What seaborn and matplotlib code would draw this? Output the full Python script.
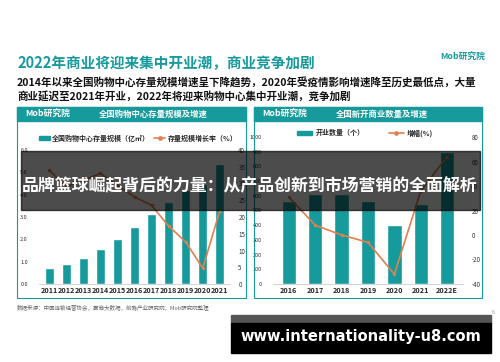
import numpy as np
import matplotlib
matplotlib.use("Agg")
import matplotlib.pyplot as plt
import seaborn as sns
from matplotlib.patches import Rectangle
from matplotlib.lines import Line2D

sns.set_theme(style="white")
plt.rcParams["font.family"] = ["Noto Sans CJK SC", "DejaVu Sans"]

# data
stock_years = ["2011", "2012", "2013", "2014", "2015", "2016", "2017", "2018", "2019", "2020", "2021"]
stock_area = [0.70, 0.90, 1.16, 1.57, 2.03, 2.54, 3.15, 3.69, 4.20, 4.50, 5.36]
stock_growth = [34.0, 29.0, 31.0, 33.0, 29.5, 26.0, 23.5, 17.3, 12.6, 4.7, 21.8]

open_years = ["2016", "2017", "2018", "2019", "2020", "2021", "2022E"]
open_count = [566, 614, 611, 566, 398, 543, 898]
open_growth = [31.0, 8.0, 0.0, -6.0, -32.0, 36.0, 64.0]

TEAL = "#169a9c"
ORANGE = "#e0804e"
W, H = 500, 362


def box(x0, y0, x1, y1):
    return [x0 / W, 1 - y1 / H, (x1 - x0) / W, (y1 - y0) / H]


fig = plt.figure(figsize=(5, 3.62), dpi=100)
fig.patch.set_facecolor("white")

# title and subtitle
fig.text(17 / W, 1 - 63 / H, "2022年商业将迎来集中开业潮，商业竞争加剧", color=TEAL,
         fontsize=10.5, fontweight="bold", va="center", ha="left")
fig.text(440 / W, 1 - 57 / H, "Mob研究院", color=TEAL, fontsize=6.3,
         style="italic", fontweight="bold", va="center", ha="left")
fig.text(17 / W, 1 - 82 / H,
         "2014年以来全国购物中心存量规模增速呈下降趋势，2020年受疫情影响增速降至历史最低点，大量",
         fontsize=7.6, fontweight="bold", color="#111111", va="center", ha="left")
fig.text(17 / W, 1 - 96 / H, "商业延迟至2021年开业，2022年将迎来购物中心集中开业潮，竞争加剧",
         fontsize=7.6, fontweight="bold", color="#111111", va="center", ha="left")


def panel(x0, x1, title):
    fig.patches.append(Rectangle((x0 / W, 1 - 298 / H), (x1 - x0) / W, (298 - 107) / H,
                                 transform=fig.transFigure, fill=False,
                                 edgecolor=TEAL, linewidth=0.8))
    fig.patches.append(Rectangle((x0 / W, 1 - 121 / H), (x1 - x0) / W, 14 / H,
                                 transform=fig.transFigure, color=TEAL))
    fig.text((x0 + 8) / W, 1 - 114.5 / H, "Mob研究院", color="white", fontsize=6.3,
             style="italic", fontweight="bold", va="center", ha="left")
    fig.text((x0 + 82) / W, 1 - 114.5 / H, title, color="white", fontsize=6,
             fontweight="bold", va="center", ha="left")


panel(17, 246, "全国购物中心存量规模及增速")
panel(254, 482, "全国新开商业数量及增速")


def combo(pos, years, bars, rate, ylim, yticks, ylabels, rlim, rticks):
    ax = fig.add_axes(pos)
    sns.barplot(x=years, y=bars, ax=ax, color=TEAL, width=0.55, saturation=1)
    ax.set_ylim(*ylim)
    ax.set_yticks(yticks)
    ax.set_yticklabels(ylabels, fontsize=4, color="#333333")
    ax.tick_params(axis="x", labelsize=5.2, pad=2, length=0)
    ax.tick_params(axis="y", length=0, pad=8)
    for t in ax.get_xticklabels():
        t.set_fontweight("bold")
    ax.set_xlabel("")
    ax.set_ylabel("")
    for s in ["top", "left", "right"]:
        ax.spines[s].set_visible(False)
    ax.spines["bottom"].set_color("#cccccc")
    ax.spines["bottom"].set_linewidth(0.6)
    ax.set_facecolor("none")

    ax2 = ax.twinx()
    sns.lineplot(x=np.arange(len(years)), y=rate, ax=ax2, color=ORANGE,
                 marker="o", markersize=2.4, linewidth=1.2, markeredgewidth=0)
    ax2.set_ylim(*rlim)
    ax2.set_yticks(rticks)
    ax2.set_yticklabels([str(v) for v in rticks], fontsize=4.5, color="#333333")
    ax2.tick_params(axis="y", length=0, pad=6)
    for s in ax2.spines.values():
        s.set_visible(False)
    ax.set_xlim(-0.6, len(years) - 0.4)
    return ax


combo(box(39, 150, 230, 284), stock_years, stock_area, stock_growth,
      (0, 6), np.arange(0, 7), [f"{v:.1f}" for v in range(7)],
      (0, 40), list(range(0, 45, 5)))
combo(box(273, 137, 463, 284), open_years, open_count, open_growth,
      (0, 1000), np.arange(0, 1100, 100), [str(v) for v in range(0, 1100, 100)],
      (-40, 80), list(range(-40, 100, 20)))

# legends
bar_h = Rectangle((0, 0), 1, 1, color=TEAL)
line_h = Line2D([0], [0], color=ORANGE, marker="o", markersize=2.4, linewidth=1.2)
fig.legend([bar_h, line_h], ["全国购物中心存量规模（亿㎡）", "存量规模增长率（%）"],
           loc="center", bbox_to_anchor=(138 / W, 1 - 138 / H), ncol=2, frameon=False,
           handlelength=1.6, handleheight=0.6, columnspacing=0.6,
           handletextpad=0.3, prop={"weight": "bold", "size": 5})
fig.legend([bar_h, line_h], ["开业数量（个）", "增幅(%)"],
           loc="center", bbox_to_anchor=(365 / W, 1 - 133 / H), ncol=2, frameon=False,
           handlelength=2.2, handleheight=0.6, columnspacing=3.5,
           handletextpad=0.4, prop={"weight": "bold", "size": 5})

# footer
fig.text(17 / W, 1 - 307 / H, "数据来源：中国连锁经营协会，赢商大数据，前瞻产业研究院，Mob研究院整理",
         fontsize=4, color="#666666", va="center", ha="left")
fig.text(493 / W, 1 - 313 / H, "6", fontsize=4, color="#999999", va="center", ha="center")

# overlay banner
fig.patches.append(Rectangle((21 / W, 1 - 210 / H), 459 / W, 59 / H,
                             transform=fig.transFigure, color="black", alpha=0.7, zorder=10))
fig.text(250 / W, 1 - 186 / H, "品牌篮球崛起背后的力量：从产品创新到市场营销的全面解析",
         color="white", fontsize=12.2, fontweight="bold", va="center", ha="center", zorder=11)

# url box
fig.patches.append(Rectangle((231 / W, 1 - 323 / H), 260 / W, 8 / H,
                             transform=fig.transFigure, color="#555555", zorder=10))
fig.patches.append(Rectangle((231 / W, 1 - 353 / H), 260 / W, 30 / H,
                             transform=fig.transFigure, color="black", zorder=10))
fig.text(361 / W, 1 - 337 / H, "www.internationality-u8.com", color="white",
         fontsize=10.5, fontweight="bold", family="DejaVu Sans",
         va="center", ha="center", zorder=11)

plt.savefig("out.png", dpi=100)
plt.close()
